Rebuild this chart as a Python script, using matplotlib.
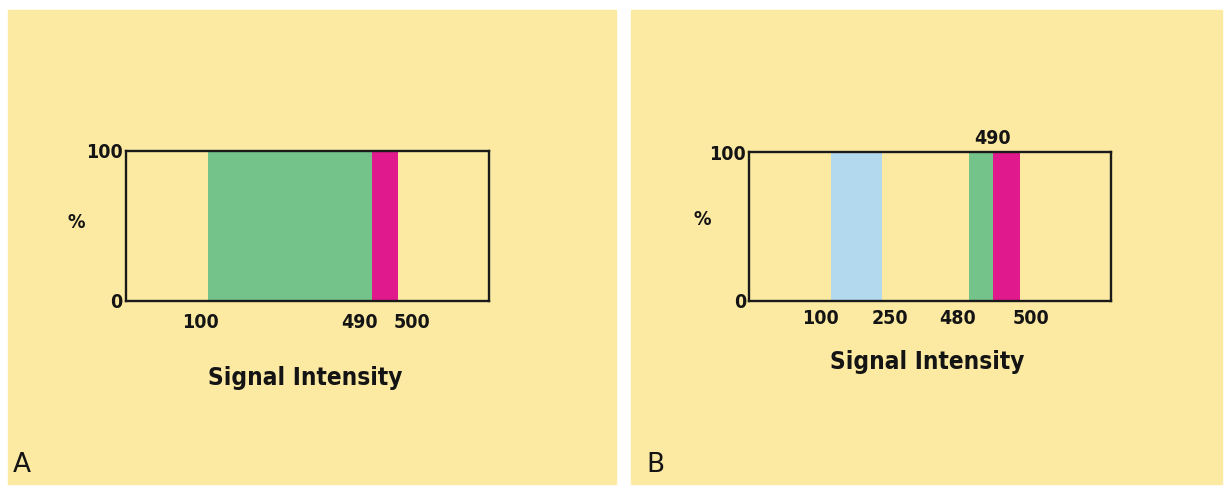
import matplotlib
matplotlib.use("Agg")
import matplotlib.pyplot as plt
from matplotlib.patches import Rectangle

# schematic signal-intensity axis runs 0..100 (not linear in real values)
a_band_left = [22.6, 67.8]
a_band_right = [67.8, 75.0]
a_band_colors = ["#74c38b", "#e0198c"]
a_tick_pos = [20.6, 64.4, 78.7]
a_tick_labels = ["100", "490", "500"]

b_band_left = [22.6, 60.8, 67.4]
b_band_right = [36.7, 67.4, 74.9]
b_band_colors = ["#b2d9ee", "#74c38b", "#e0198c"]
b_tick_pos = [19.6, 39.0, 57.5, 77.9]
b_tick_labels = ["100", "250", "480", "500"]
b_top_pos = 67.4
b_top_label = "490"

y_ticks = [0, 100]
y_labels = ["0", "100"]

bg = "#fceaa2"
ink = "#141414"
font = dict(family="DejaVu Sans", fontstretch="condensed", fontweight="bold", color=ink)

fig = plt.figure(figsize=(12.28, 4.86), dpi=100)
W, H = 1228.0, 486.0
fig.patches.append(Rectangle((8 / W, 1 - 484 / H), 608 / W, 474 / H,
                             transform=fig.transFigure, color=bg, zorder=-5))
fig.patches.append(Rectangle((631 / W, 1 - 484 / H), 591 / W, 474 / H,
                             transform=fig.transFigure, color=bg, zorder=-5))


def draw_panel(rect, lefts, rights, colors, tpos, tlabels, tpad, pct_xy, title_xy):
    ax = fig.add_axes(rect)
    ax.set_facecolor("none")
    for l, r, c in zip(lefts, rights, colors):
        ax.bar(l, 100, width=r - l, align="edge", color=c, linewidth=0)
    ax.set_xlim(0, 100)
    ax.set_ylim(0, 100)
    for s in ax.spines.values():
        s.set_linewidth(1.7)
        s.set_color("#1a1a1a")
    ax.set_xticks(tpos)
    ax.set_xticklabels(tlabels, fontsize=14, **font)
    ax.set_yticks(y_ticks)
    ax.set_yticklabels(y_labels, fontsize=14, **font)
    ax.tick_params(axis="x", length=0, pad=tpad)
    ax.tick_params(axis="y", length=0, pad=2)
    ax.text(pct_xy[0], pct_xy[1], "%", transform=ax.transAxes, ha="center", va="center",
            fontsize=14, **font)
    ax.text(title_xy[0], title_xy[1], "Signal Intensity", transform=ax.transAxes,
            ha="center", va="center", fontsize=17.5, **font)
    return ax


ax_a = draw_panel([125.5 / W, 1 - 301 / H, 363.5 / W, 150 / H],
                  a_band_left, a_band_right, a_band_colors, a_tick_pos, a_tick_labels,
                  8.5, (-0.136, 0.52), (0.494, -0.513))
ax_b = draw_panel([749 / W, 1 - 301 / H, 362 / W, 149 / H],
                  b_band_left, b_band_right, b_band_colors, b_tick_pos, b_tick_labels,
                  5.5, (-0.13, 0.55), (0.492, -0.41))
ax_b.annotate(b_top_label, xy=(b_top_pos, 100), xytext=(0, 3), textcoords="offset points",
              ha="center", va="bottom", fontsize=14, annotation_clip=False, **font)

fig.text(13 / W, 1 - 465 / H, "A", ha="left", va="center", fontsize=19, color=ink)
fig.text(646 / W, 1 - 465 / H, "B", ha="left", va="center", fontsize=19, color=ink)

fig.savefig("out.png", dpi=100, facecolor="white")
